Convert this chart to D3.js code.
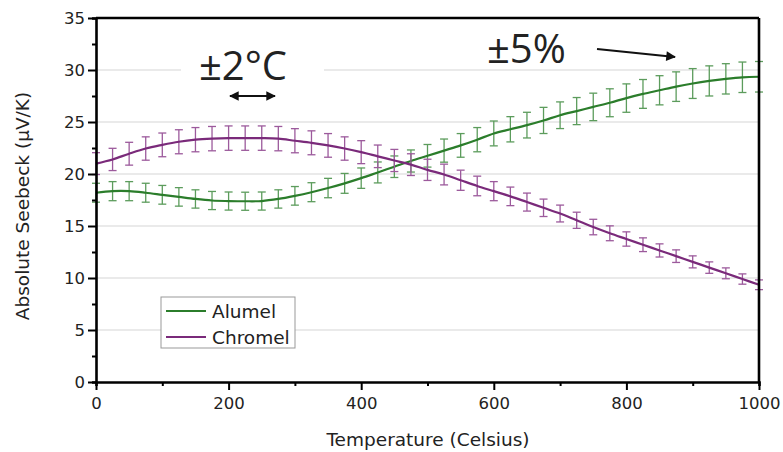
<!DOCTYPE html>
<html>
<head>
<meta charset="utf-8">
<script src="https://cdn.jsdelivr.net/npm/d3@7"></script>
<style>
  body { margin: 0; background: #fff; }
  svg { display: block; font-family: "DejaVu Sans", sans-serif; }
</style>
</head>
<body>
<div id="chart"></div>
<script>
// temperatures (Celsius), one point every 25 degrees
const temps = d3.range(0, 1001, 25);
const alumel = [18.2, 18.35, 18.35, 18.2, 18.0, 17.8, 17.6, 17.45, 17.4, 17.38, 17.4,
    17.6, 17.9, 18.25, 18.65, 19.1, 19.6, 20.15, 20.7, 21.25, 21.75,
    22.25, 22.75, 23.3, 23.9, 24.3, 24.7, 25.15, 25.65, 26.05, 26.45,
    26.85, 27.3, 27.7, 28.05, 28.4, 28.7, 28.95, 29.15, 29.3, 29.35];
const chromel = [21.0, 21.4, 21.95, 22.45, 22.8, 23.1, 23.3, 23.4, 23.45, 23.45, 23.45,
    23.4, 23.2, 23.0, 22.75, 22.45, 22.1, 21.7, 21.3, 20.9, 20.4,
    19.95, 19.4, 18.85, 18.35, 17.85, 17.3, 16.75, 16.2, 15.55, 14.9,
    14.3, 13.75, 13.2, 12.65, 12.1, 11.55, 11.0, 10.45, 9.9, 9.35];
const errPct = 0.05;
const xTicks = [0, 200, 400, 600, 800, 1000];
const yTicks = [0, 5, 10, 15, 20, 25, 30, 35];

const width = 783, height = 452;
const svg = d3.select("#chart").append("svg")
    .attr("width", width).attr("height", height);

const x = d3.scaleLinear().domain([0, 1000]).range([96, 759]);
const y = d3.scaleLinear().domain([0, 35]).range([382, 18]);

// gridlines
svg.append("g").selectAll("line")
    .data(yTicks.filter(d => d > 0 && d < 35))
    .enter().append("line")
    .attr("x1", x(0)).attr("x2", x(1000))
    .attr("y1", d => y(d)).attr("y2", d => y(d))
    .attr("stroke", "#d6d6d6").attr("stroke-width", 1.2);

// white patch behind the ±2°C label
svg.append("rect")
    .attr("x", 181).attr("y", 36).attr("width", 143).attr("height", 70)
    .attr("fill", "#fff");

const series = [
    { name: "Alumel", values: alumel, line: "#2b7d2b", bar: "#5c9c5c" },
    { name: "Chromel", values: chromel, line: "#7a2a7a", bar: "#9c5a9c" }
];

const lineGen = d3.line()
    .x(d => x(d[0])).y(d => y(d[1]))
    .curve(d3.curveCatmullRom);

series.forEach(s => {
    const pts = temps.map((t, i) => [t, s.values[i]]);
    const g = svg.append("g");
    const bars = g.selectAll("g.eb").data(pts).enter().append("g").attr("class", "eb")
        .attr("stroke", s.bar).attr("stroke-width", 1.3);
    bars.append("line")
        .attr("x1", d => x(d[0])).attr("x2", d => x(d[0]))
        .attr("y1", d => y(d[1] * (1 - errPct))).attr("y2", d => y(d[1] * (1 + errPct)));
    bars.append("line")
        .attr("x1", d => x(d[0]) - 4).attr("x2", d => x(d[0]) + 4)
        .attr("y1", d => y(d[1] * (1 + errPct))).attr("y2", d => y(d[1] * (1 + errPct)));
    bars.append("line")
        .attr("x1", d => x(d[0]) - 4).attr("x2", d => x(d[0]) + 4)
        .attr("y1", d => y(d[1] * (1 - errPct))).attr("y2", d => y(d[1] * (1 - errPct)));
    g.append("path").datum(pts)
        .attr("fill", "none").attr("stroke", s.line).attr("stroke-width", 2.2)
        .attr("d", lineGen);
});

// axes
const xAxis = svg.append("g").attr("transform", `translate(0,${y(0)})`)
    .call(d3.axisBottom(x).tickValues(d3.range(0, 1001, 100)).tickSize(4).tickFormat(""));
xAxis.selectAll(".tick line").filter(d => d % 200 === 0).attr("y2", 8);
svg.append("g").attr("transform", `translate(0,${y(0)})`)
    .call(d3.axisBottom(x).tickValues(xTicks).tickSize(0).tickPadding(15).tickFormat(d3.format("d")))
    .call(g => g.select(".domain").remove())
    .call(g => g.attr("font-family", null).attr("font-size", null))
    .selectAll("text").attr("font-size", 16.5).attr("fill", "#222");

const yAxis = svg.append("g").attr("transform", `translate(${x(0)},0)`)
    .call(d3.axisLeft(y).tickValues(d3.range(0, 35.1, 2.5)).tickSize(4).tickFormat(""));
yAxis.selectAll(".tick line").filter(d => d % 5 === 0).attr("x2", -8);
svg.append("g").attr("transform", `translate(${x(0)},0)`)
    .call(d3.axisLeft(y).tickValues(yTicks).tickSize(0).tickPadding(11))
    .call(g => g.select(".domain").remove())
    .call(g => g.attr("font-family", null).attr("font-size", null))
    .selectAll("text").attr("font-size", 16.5).attr("fill", "#222");

svg.selectAll(".domain").attr("stroke", "#000").attr("stroke-width", 2.6);
svg.selectAll(".tick line").attr("stroke", "#000").attr("stroke-width", 2);

// frame top and right
svg.append("line").attr("x1", x(0)).attr("x2", x(1000)).attr("y1", y(35)).attr("y2", y(35))
    .attr("stroke", "#000").attr("stroke-width", 2.6);
svg.append("line").attr("x1", x(1000)).attr("x2", x(1000)).attr("y1", y(35)).attr("y2", y(0))
    .attr("stroke", "#000").attr("stroke-width", 2.6);

// axis titles
svg.append("text").attr("x", 428).attr("y", 446).attr("text-anchor", "middle")
    .attr("font-size", 18.5).attr("fill", "#222").text("Temperature (Celsius)");
svg.append("text").attr("transform", "translate(29,206) rotate(-90)")
    .attr("text-anchor", "middle").attr("font-size", 18.5).attr("fill", "#222")
    .text("Absolute Seebeck (\u03bcV/K)");

// legend
const leg = svg.append("g");
leg.append("rect").attr("x", 161).attr("y", 297).attr("width", 134).attr("height", 51)
    .attr("fill", "#fff").attr("stroke", "#999").attr("stroke-width", 1);
series.forEach((s, i) => {
    const ly = 311 + i * 26;
    leg.append("line").attr("x1", 166).attr("x2", 206).attr("y1", ly).attr("y2", ly)
        .attr("stroke", s.line).attr("stroke-width", 1.8);
    leg.append("text").attr("x", 212).attr("y", ly + 6.5).attr("font-size", 18.5)
        .attr("fill", "#222").text(s.name);
});

// annotations
const defs = svg.append("defs");
defs.append("marker").attr("id", "head").attr("viewBox", "0 0 10 10")
    .attr("refX", 9).attr("refY", 5).attr("markerWidth", 5).attr("markerHeight", 4.4)
    .attr("orient", "auto-start-reverse")
    .append("path").attr("d", "M0,0 L10,5 L0,10 Z").attr("fill", "#111");

svg.append("text").attr("x", 199).attr("y", 80).attr("font-size", 40)
    .attr("font-family", "Open Sans, sans-serif").attr("fill", "#222").text("\u00b12\u00b0C");
svg.append("line").attr("x1", 230).attr("x2", 275).attr("y1", 96).attr("y2", 96)
    .attr("stroke", "#111").attr("stroke-width", 2.2)
    .attr("marker-start", "url(#head)").attr("marker-end", "url(#head)");

svg.append("text").attr("x", 487).attr("y", 63).attr("font-size", 40)
    .attr("font-family", "Open Sans, sans-serif").attr("fill", "#222").text("\u00b15%");
svg.append("line").attr("x1", 597).attr("x2", 675).attr("y1", 49).attr("y2", 57)
    .attr("stroke", "#111").attr("stroke-width", 2.2)
    .attr("marker-end", "url(#head)");
</script>
</body>
</html>
